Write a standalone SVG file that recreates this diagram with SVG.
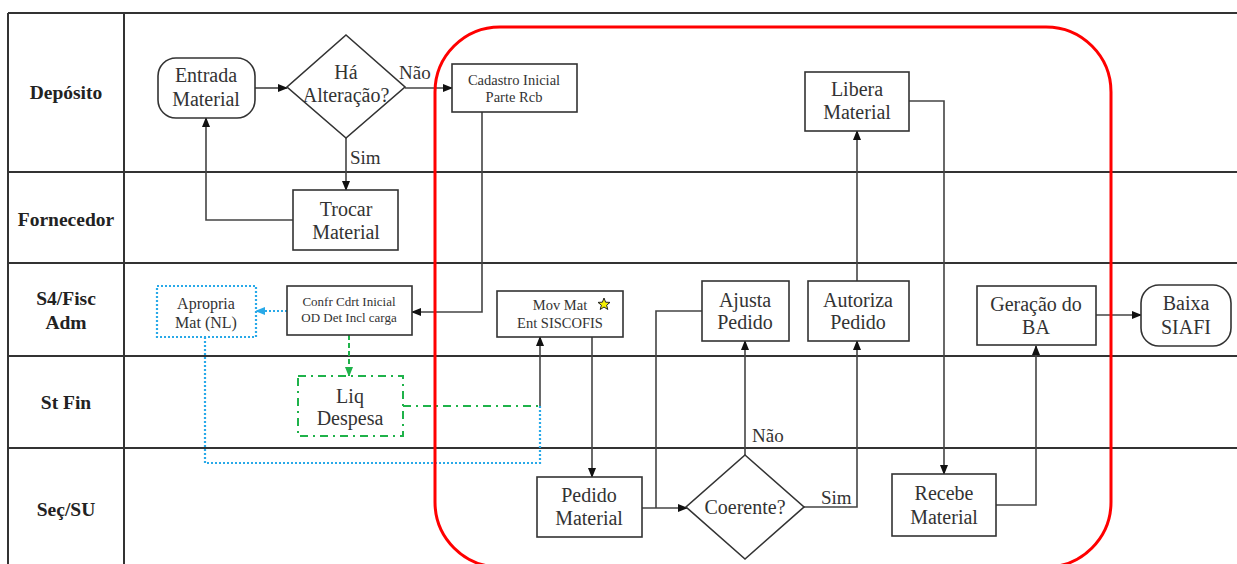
<svg xmlns="http://www.w3.org/2000/svg" width="1237" height="564" viewBox="0 0 1237 564">
<style>
.grid{stroke:#333;stroke-width:2;fill:none}
text{font-family:"Liberation Serif","Times New Roman",Times,"DejaVu Serif",serif}
.lane{font-weight:bold;font-size:19.5px;fill:#222;text-anchor:middle}
.box{fill:#fff;stroke:#333;stroke-width:1.6}
.t{font-size:20px;fill:#333;text-anchor:middle}
.ts{font-size:13px;fill:#333;text-anchor:middle}
.tm{font-size:16px;fill:#333;text-anchor:middle}
.lbl{font-size:19px;fill:#333}
.c{fill:none;stroke:#444;stroke-width:1.6}
.blue{fill:none;stroke:#29a9e8;stroke-width:2.2;stroke-dasharray:2 2}
.green{fill:none;stroke:#1fb24a;stroke-width:2;stroke-dasharray:8 5 2 5}
</style>
<defs>
<marker id="ah" markerUnits="userSpaceOnUse" markerWidth="10" markerHeight="10" refX="9" refY="5" orient="auto"><path d="M0,1 L10,5 L0,9 Z" fill="#111"/></marker>
<marker id="ahb" markerUnits="userSpaceOnUse" markerWidth="10" markerHeight="10" refX="9" refY="5" orient="auto"><path d="M0,1 L10,5 L0,9 Z" fill="#29a9e8"/></marker>
<marker id="ahg" markerUnits="userSpaceOnUse" markerWidth="10" markerHeight="10" refX="9" refY="5" orient="auto"><path d="M0,1 L10,5 L0,9 Z" fill="#1fb24a"/></marker>
</defs>
<rect width="1237" height="564" fill="#fff"/>
<g id="grid">
<path class="grid" d="M8,13 H1237 M8,172 H1237 M8,263 H1237 M8,356 H1237 M8,448 H1237 M8,13 V564 M124,13 V564"/>
<text class="lane" x="66" y="99">Depósito</text>
<text class="lane" x="66" y="226">Fornecedor</text>
<text class="lane" x="66" y="305">S4/Fisc</text>
<text class="lane" x="66" y="329">Adm</text>
<text class="lane" x="66" y="409">St Fin</text>
<text class="lane" x="66" y="516">Seç/SU</text>
</g>
<g id="connectors">
<path class="c" d="M255,88 L287,88" marker-end="url(#ah)"/>
<path class="c" d="M405,88 L452,88" marker-end="url(#ah)"/>
<path class="c" d="M346,138 L346,190" marker-end="url(#ah)"/>
<path class="c" d="M293,220 L206,220 L206,118" marker-end="url(#ah)"/>
<path class="c" d="M482,112 L482,312 L412,312" marker-end="url(#ah)"/>
<path class="blue" d="M287,311 L256,311" marker-end="url(#ahb)"/>
<path class="green" style="stroke-dasharray:5 3" d="M349,335 L349,376" marker-end="url(#ahg)"/>
<path class="green" d="M403,406 L540,406"/>
<path class="c" d="M540,406 L540,337" marker-end="url(#ah)"/>
<path class="blue" d="M205,337 L205,463 L540,463 L540,406"/>
<path class="c" d="M592,337 L592,477" marker-end="url(#ah)"/>
<path class="c" d="M642,508 L687,508" marker-end="url(#ah)"/>
<path class="c" d="M702,311 L656,311 L656,508"/>
<path class="c" d="M745,455 L745,341" marker-end="url(#ah)"/>
<path class="c" d="M804,507 L857,507 L857,341" marker-end="url(#ah)"/>
<path class="c" d="M857,281 L857,131" marker-end="url(#ah)"/>
<path class="c" d="M909,101 L944,101 L944,474" marker-end="url(#ah)"/>
<path class="c" d="M996,505 L1036,505 L1036,346" marker-end="url(#ah)"/>
<path class="c" d="M1096,315 L1141,315" marker-end="url(#ah)"/>
<text class="lbl" x="399" y="79">Não</text>
<text class="lbl" x="350" y="164">Sim</text>
<text class="lbl" x="752" y="442">Não</text>
<text class="lbl" x="821" y="504">Sim</text>
</g>
<rect id="region" x="435" y="27" width="676" height="540" rx="65" ry="65" fill="none" stroke="#ff0000" stroke-width="3"/>
<g id="entrada"><rect class="box" x="158" y="58" width="97" height="60" rx="18"/><text class="t" x="206" y="82">Entrada</text><text class="t" x="206" y="106">Material</text></g>
<g id="ha-alteracao"><path class="box" d="M346,35 L405,87 L346,138 L287,87 Z"/><text class="t" x="346" y="79">Há</text><text class="t" x="346" y="102">Alteração?</text></g>
<g id="cadastro"><rect class="box" x="452" y="64" width="125" height="48"/><text class="ts" style="font-size:14.5px" x="514" y="85">Cadastro Inicial</text><text class="ts" style="font-size:14.5px" x="514" y="102">Parte Rcb</text></g>
<g id="trocar"><rect class="box" x="293" y="190" width="105" height="60"/><text class="t" x="346" y="216">Trocar</text><text class="t" x="346" y="239">Material</text></g>
<g id="libera"><rect class="box" x="805" y="72" width="104" height="59"/><text class="t" x="857" y="96">Libera</text><text class="t" x="857" y="119">Material</text></g>
<g id="apropria"><rect x="157" y="286" width="99" height="51" fill="#fff" stroke="#29a9e8" stroke-width="2.2" stroke-dasharray="2 2"/><text class="tm" x="206" y="309">Apropria</text><text class="tm" x="206" y="328">Mat (NL)</text></g>
<g id="confr"><rect class="box" x="287" y="286" width="125" height="49"/><text class="ts" x="349" y="306">Confr Cdrt Inicial</text><text class="ts" x="349" y="322">OD Det Incl carga</text></g>
<g id="mov-mat"><rect class="box" x="497" y="291" width="126" height="46"/><text class="ts" style="font-size:14.5px" x="560" y="310">Mov Mat</text><text class="ts" style="font-size:14.5px" x="560" y="328">Ent SISCOFIS</text><path d="M604,298 L605.6,302.2 L610,302.4 L606.6,305.2 L607.8,309.5 L604,307 L600.2,309.5 L601.4,305.2 L598,302.4 L602.4,302.2 Z" fill="#f5f000" stroke="#222" stroke-width="1"/></g>
<g id="ajusta"><rect class="box" x="702" y="281" width="87" height="60"/><text class="t" x="745" y="307">Ajusta</text><text class="t" x="745" y="329">Pedido</text></g>
<g id="autoriza"><rect class="box" x="808" y="281" width="101" height="60"/><text class="t" x="858" y="307">Autoriza</text><text class="t" x="858" y="329">Pedido</text></g>
<g id="geracao"><rect class="box" x="977" y="286" width="119" height="59"/><text class="t" x="1036" y="311">Geração do</text><text class="t" x="1036" y="334">BA</text></g>
<g id="baixa"><rect class="box" x="1141" y="285" width="90" height="61" rx="18"/><text class="t" x="1186" y="310">Baixa</text><text class="t" x="1186" y="334">SIAFI</text></g>
<g id="liq"><rect x="298" y="376" width="105" height="60" fill="#fff" stroke="#1fb24a" stroke-width="2" stroke-dasharray="8 5 2 5"/><text class="t" x="350" y="403">Liq</text><text class="t" x="350" y="425">Despesa</text></g>
<g id="pedido"><rect class="box" x="537" y="477" width="105" height="60"/><text class="t" x="589" y="502">Pedido</text><text class="t" x="589" y="525">Material</text></g>
<g id="coerente"><path class="box" d="M745,455 L804,507 L745,559 L686,507 Z"/><text class="t" x="745" y="514">Coerente?</text></g>
<g id="recebe"><rect class="box" x="892" y="474" width="104" height="62"/><text class="t" x="944" y="500">Recebe</text><text class="t" x="944" y="524">Material</text></g>
</svg>
